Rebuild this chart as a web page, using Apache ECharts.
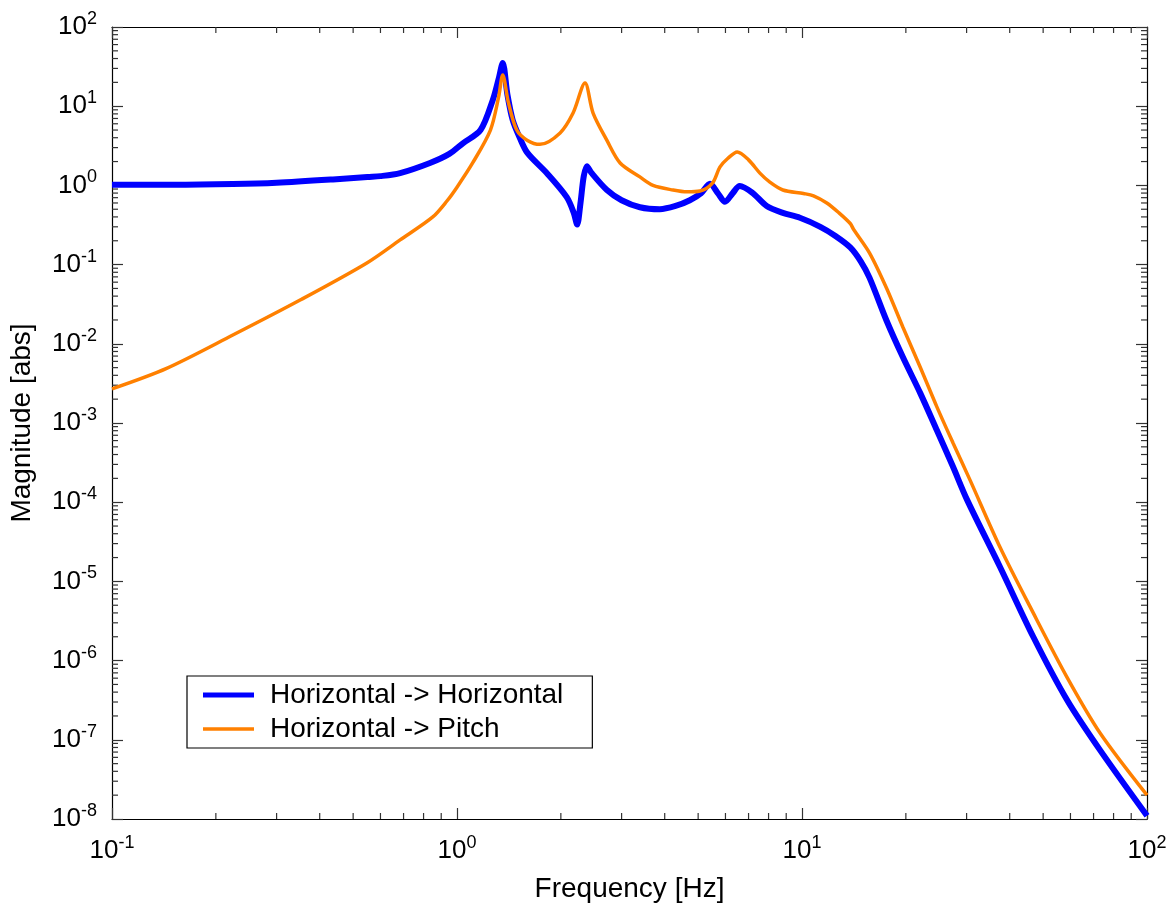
<!DOCTYPE html>
<html>
<head>
<meta charset="utf-8" />
<title>Magnitude</title>
<script src="https://cdn.jsdelivr.net/npm/echarts@6/dist/echarts.min.js"></script>
<style>
  html, body { margin: 0; padding: 0; background: #fff; }
  #chart { width: 1175px; height: 915px; }
</style>
</head>
<body>
<div id="chart"></div>
<script>
// Horizontal -> Horizontal (blue)
const hhFreq = [0.1, 0.15, 0.224, 0.3, 0.437, 0.55, 0.6, 0.684, 0.835, 0.95, 1.04, 1.17, 1.27, 1.32, 1.357, 1.4, 1.45, 1.52, 1.6, 1.82, 2.08, 2.18, 2.23, 2.28, 2.33, 2.38, 2.45, 2.72, 3.0, 3.39, 3.87, 4.3, 4.73, 5.1, 5.41, 5.7, 5.98, 6.3, 6.6, 7.2, 7.9, 8.8, 9.86, 11.3, 12.5, 13.8, 14.8, 15.7, 17.6, 19.6, 22.0, 24.6, 27.4, 30.1, 37.5, 46.8, 58.6, 73.1, 100];
const hhMag = [1.02, 1.02, 1.04, 1.08, 1.19, 1.28, 1.31, 1.43, 1.92, 2.5, 3.4, 5.0, 12, 22, 35, 14, 6.7, 4.0, 2.57, 1.43, 0.71, 0.45, 0.32, 0.6, 1.3, 1.75, 1.45, 0.875, 0.65, 0.53, 0.5, 0.55, 0.65, 0.8, 1.05, 0.8, 0.62, 0.8, 0.98, 0.8, 0.55, 0.45, 0.39, 0.3, 0.23, 0.165, 0.11, 0.068, 0.0194, 0.0068, 0.0024, 8.1e-4, 2.8e-4, 1.07e-4, 1.52e-5, 2.0e-6, 3.2e-7, 7.4e-8, 1.1e-8];

// Horizontal -> Pitch (orange)
const hpFreq = [0.1, 0.144, 0.224, 0.351, 0.548, 0.684, 0.851, 0.935, 1.0, 1.11, 1.25, 1.32, 1.357, 1.41, 1.49, 1.6, 1.74, 1.99, 2.17, 2.35, 2.48, 2.72, 2.97, 3.39, 3.7, 4.23, 4.64, 5.06, 5.5, 5.78, 6.1, 6.49, 7.0, 7.55, 8.07, 8.8, 10.1, 10.8, 11.8, 12.8, 13.8, 14.1, 15.7, 17.6, 19.6, 22.0, 24.6, 27.4, 30.7, 37.5, 46.8, 58.6, 73.1, 100];
const hpMag = [2.7e-3, 4.9e-3, 0.0129, 0.0357, 0.105, 0.205, 0.4, 0.635, 0.95, 1.92, 5.0, 13, 24.8, 11, 5.0, 3.7, 3.3, 4.6, 8.2, 19.6, 8.2, 3.7, 1.92, 1.28, 1.0, 0.875, 0.83, 0.85, 1.07, 1.7, 2.2, 2.64, 2.1, 1.43, 1.1, 0.875, 0.79, 0.74, 0.6, 0.45, 0.33, 0.28, 0.14, 0.05, 0.0163, 0.0051, 1.6e-3, 5.6e-4, 1.9e-4, 2.7e-5, 4.0e-6, 6.2e-7, 1.22e-7, 2.0e-8];

const seriesNames = ["Horizontal -> Horizontal", "Horizontal -> Pitch"];

// minor tick positions (2..9 per decade)
const xMinor = [0.2, 0.3, 0.4, 0.5, 0.6, 0.7, 0.8, 0.9, 2, 3, 4, 5, 6, 7, 8, 9, 20, 30, 40, 50, 60, 70, 80, 90];
const yMinor = [];
for (let e = -8; e < 2; e++) {
  for (let k = 2; k <= 9; k++) yMinor.push(k * Math.pow(10, e));
}

const X_MIN = 0.1, X_MAX = 100, Y_MIN = 1e-8, Y_MAX = 1e2;
const FONT = "Liberation Sans, Arial, sans-serif";

const powLabel = (v) => "{b|10}{s|" + Math.round(Math.log10(v)) + "}";
const labelRich = {
  b: { fontSize: 26, fontFamily: FONT, color: "#000" },
  s: { fontSize: 18, fontFamily: FONT, color: "#000", padding: [0, 0, 16, 0] },
};

const axisLine = { show: true, lineStyle: { color: "#000", width: 1.2 } };
const majorTick = { show: true, inside: true, length: 11, lineStyle: { color: "#333", width: 1.2 } };

// legend icons: thin box, padded to the same 5px height so both scale alike
const iconBlue = "path://M0,0H51V5H0Z";
const iconOrange = "path://M0,0h0.01v0.01h-0.01z M0,4.99h0.01v0.01h-0.01z M0,0.75H51V4.25H0Z";

const chart = echarts.init(document.getElementById("chart"), null, { renderer: "canvas" });

const option = {
  animation: false,
  backgroundColor: "#fff",
  grid: { left: 112, top: 27, right: 28, bottom: 96, containLabel: false },
  legend: {
    data: [
      { name: seriesNames[0], icon: iconBlue },
      { name: seriesNames[1], icon: iconOrange },
    ],
    orient: "vertical",
    left: 187,
    top: 676,
    itemWidth: 51,
    itemHeight: 5,
    itemGap: 4,
    padding: [4, 29, 4, 16],
    borderColor: "#000",
    borderWidth: 1.2,
    backgroundColor: "#fff",
    textStyle: { fontSize: 28, fontFamily: FONT, color: "#000", lineHeight: 30, padding: [0, 0, 0, 11] },
  },
  xAxis: [
    {
      type: "log",
      logBase: 10,
      min: X_MIN,
      max: X_MAX,
      interval: 1,
      name: "Frequency [Hz]",
      nameLocation: "middle",
      nameGap: 56,
      nameTextStyle: { fontSize: 28, fontFamily: FONT, color: "#000", verticalAlign: "top" },
      axisLine: axisLine,
      axisTick: majorTick,
      splitLine: { show: false },
      axisLabel: { margin: 15, formatter: powLabel, rich: labelRich },
    },
    {
      type: "log",
      logBase: 10,
      min: X_MIN,
      max: X_MAX,
      interval: 1,
      position: "top",
      axisLine: axisLine,
      axisTick: majorTick,
      splitLine: { show: false },
      axisLabel: { show: false },
    },
  ],
  yAxis: [
    {
      type: "log",
      logBase: 10,
      min: Y_MIN,
      max: Y_MAX,
      interval: 1,
      name: "Magnitude [abs]",
      nameLocation: "middle",
      nameGap: 76,
      nameTextStyle: { fontSize: 28, fontFamily: FONT, color: "#000" },
      axisLine: axisLine,
      axisTick: majorTick,
      splitLine: { show: false },
      axisLabel: { margin: 15, formatter: powLabel, rich: labelRich },
    },
    {
      type: "log",
      logBase: 10,
      min: Y_MIN,
      max: Y_MAX,
      interval: 1,
      position: "right",
      axisLine: axisLine,
      axisTick: majorTick,
      splitLine: { show: false },
      axisLabel: { show: false },
    },
  ],
  series: [
    {
      name: seriesNames[1],
      type: "line",
      data: hpFreq.map((f, i) => [f, hpMag[i]]),
      symbol: "none",
      smooth: 0.3,
      color: "#ff8000",
      lineStyle: { width: 3.5, color: "#ff8000" },
      z: 3,
    },
    {
      name: seriesNames[0],
      type: "line",
      data: hhFreq.map((f, i) => [f, hhMag[i]]),
      symbol: "none",
      smooth: 0.3,
      color: "#0000ff",
      lineStyle: { width: 6, color: "#0000ff" },
      z: 2,
    },
    {
      // minor ticks along bottom and top
      type: "custom",
      silent: true,
      clip: false,
      data: xMinor.map((v) => [v, 1]),
      renderItem: function (params, api) {
        const v = api.value(0);
        const b = api.coord([v, Y_MIN]);
        const t = api.coord([v, Y_MAX]);
        const style = { stroke: "#333", lineWidth: 1.2 };
        return {
          type: "group",
          children: [
            { type: "line", shape: { x1: b[0], y1: b[1], x2: b[0], y2: b[1] - 6 }, style: style },
            { type: "line", shape: { x1: t[0], y1: t[1], x2: t[0], y2: t[1] + 6 }, style: style },
          ],
        };
      },
    },
    {
      // minor ticks along left and right
      type: "custom",
      silent: true,
      clip: false,
      data: yMinor.map((v) => [1, v]),
      renderItem: function (params, api) {
        const v = api.value(1);
        const l = api.coord([X_MIN, v]);
        const r = api.coord([X_MAX, v]);
        const style = { stroke: "#333", lineWidth: 1.2 };
        return {
          type: "group",
          children: [
            { type: "line", shape: { x1: l[0], y1: l[1], x2: l[0] + 6, y2: l[1] }, style: style },
            { type: "line", shape: { x1: r[0], y1: r[1], x2: r[0] - 6, y2: r[1] }, style: style },
          ],
        };
      },
    },
  ],
};

chart.setOption(option);
</script>
</body>
</html>
